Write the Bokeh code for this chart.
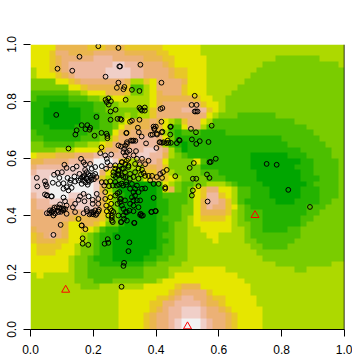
from bokeh.plotting import figure
from bokeh.models import Span, FixedTicker, LinearColorMapper
from bokeh.embed import file_html
from bokeh.resources import INLINE
import numpy as np

PALETTE = ["#00A600", "#24B300", "#4CBF00", "#7ACC00", "#ADD900", "#E6E600",
           "#E8C727", "#EAB64E", "#ECB176", "#EEB99F", "#F0CFC8", "#F2F2F2"]

# Level bands per row, top row first: "level:last column"
ROW_BANDS = [
    "5:3 7:8 6:11 7:14 6:20 5:26 4:49",
    "5:2 6:3 8:5 7:9 8:14 7:19 6:21 5:26 4:49",
    "5:2 6:3 7:4 8:9 9:12 8:17 7:20 6:22 5:27 4:38 3:45 4:49",
    "5:2 6:3 7:4 8:5 9:12 a:14 9:16 8:20 7:21 6:22 5:27 4:36 3:48 4:49",
    "4:0 5:2 6:3 7:4 8:5 9:11 a:15 9:17 8:21 7:22 6:24 5:27 4:35 3:49",
    "4:0 5:3 6:4 7:5 8:6 9:11 a:15 9:17 8:21 7:22 6:24 5:27 4:34 3:49",
    "3:3 5:5 6:6 7:7 8:14 7:15 4:17 6:18 5:19 8:23 7:24 5:27 4:33 3:49",
    "3:5 5:7 6:8 7:14 6:15 2:17 4:18 5:19 8:23 6:24 5:27 4:32 3:49",
    "2:5 3:7 4:8 5:11 7:14 6:15 3:17 4:18 5:19 7:20 8:23 6:24 5:27 4:31 3:49",
    "2:0 1:5 2:8 3:10 4:12 5:14 4:18 5:19 7:25 6:26 5:28 4:30 3:49",
    "1:2 0:5 1:9 2:11 3:13 4:18 5:19 7:20 8:26 6:27 5:29 4:30 3:49",
    "1:1 0:7 1:9 2:11 3:17 4:18 6:19 8:23 9:27 6:28 5:29 4:30 3:49",
    "1:1 0:7 1:10 2:12 3:14 4:15 3:16 4:18 6:19 8:27 5:28 4:29 3:32 2:38 3:49",
    "1:1 0:7 1:10 2:12 3:13 4:14 5:15 7:18 8:19 7:20 5:21 4:22 3:23 6:24 8:26 5:27 4:28 2:41 3:49",
    "1:2 0:6 1:10 2:12 3:13 5:14 7:18 8:19 7:20 5:21 2:23 5:24 8:26 4:27 2:43 3:49",
    "2:0 1:8 2:12 5:13 7:15 8:19 7:20 4:21 2:22 1:23 2:26 1:30 2:44 3:49",
    "2:1 1:7 2:10 3:11 4:12 6:13 8:16 9:19 8:20 5:21 3:22 1:39 2:45 3:49",
    "3:1 2:6 3:8 4:10 5:11 6:12 8:15 9:19 8:20 4:21 2:22 1:23 0:24 1:40 2:46 3:49",
    "3:3 4:6 5:10 6:11 8:13 9:17 a:19 9:20 8:21 4:22 2:23 0:24 1:42 2:47 3:49",
    "5:0 6:3 7:6 8:9 9:10 a:12 9:16 a:18 9:20 7:21 4:22 3:23 2:24 1:34 0:40 1:43 2:47 3:49",
    "7:1 8:5 9:9 b:12 a:13 6:14 5:15 4:16 8:18 9:19 8:20 5:21 3:25 5:26 2:27 1:34 0:42 1:44 2:48 3:49",
    "8:0 9:5 a:8 b:11 9:12 5:13 3:15 4:17 7:19 8:20 6:21 3:26 1:34 0:41 1:44 2:48 3:49",
    "9:0 a:8 b:10 8:11 5:12 3:16 4:17 6:19 8:20 6:21 4:22 3:26 2:29 1:35 0:42 1:44 2:48 3:49",
    "a:2 b:9 9:10 6:11 4:12 2:15 3:17 5:18 7:20 6:21 5:22 4:23 3:27 2:30 1:35 0:42 1:45 2:48 3:49",
    "a:2 b:9 a:10 8:11 4:12 1:14 0:19 2:20 5:21 4:22 3:23 2:25 3:27 4:30 3:31 2:32 1:36 0:43 1:44 2:48 3:49",
    "a:2 b:9 a:10 7:11 4:12 2:13 0:19 1:20 5:21 7:22 3:23 2:24 3:25 5:26 6:27 8:29 5:31 4:32 2:34 1:37 0:42 1:45 2:48 3:49",
    "9:0 a:2 b:5 a:8 b:9 a:10 8:11 5:12 3:13 1:14 0:19 1:20 2:24 3:25 5:26 6:27 9:29 6:30 5:31 4:32 2:34 1:37 0:42 1:45 2:48 3:49",
    "8:0 9:2 a:5 9:6 a:9 9:10 7:11 5:12 3:13 1:14 0:19 1:21 2:24 3:25 5:26 7:27 9:29 8:30 6:31 4:32 2:33 1:38 0:41 1:45 2:47 3:49",
    "8:0 9:6 a:9 9:10 7:11 5:12 3:13 0:19 1:21 2:23 3:25 5:26 7:27 9:28 8:30 6:31 5:32 3:33 2:34 1:43 2:46 3:49",
    "8:1 9:4 8:7 9:9 8:10 6:11 5:12 3:13 1:14 0:19 1:21 2:23 3:25 5:26 7:30 6:31 4:32 3:33 2:36 1:43 2:45 3:49",
    "8:5 7:6 6:7 7:10 6:11 4:12 3:13 1:14 0:19 1:20 2:23 3:24 4:25 5:26 6:30 5:31 4:32 3:33 2:36 1:42 2:44 3:49",
    "8:4 7:5 5:7 7:9 6:10 5:11 3:13 1:14 0:19 1:21 2:22 3:24 4:25 5:31 4:32 3:34 2:36 1:42 2:43 3:49",
    "7:0 8:4 7:5 5:7 6:8 5:9 4:10 2:11 1:13 0:19 1:21 2:22 3:24 4:26 5:31 4:33 3:34 2:36 1:40 2:42 3:49",
    "6:0 7:1 8:2 9:3 8:4 7:5 5:7 4:8 3:9 2:10 1:12 0:19 1:20 2:22 3:24 4:27 5:29 4:33 3:34 2:42 3:49",
    "6:0 7:3 6:5 5:7 4:8 3:9 2:10 1:12 0:19 1:21 2:22 3:24 4:28 5:29 4:33 3:35 2:41 3:49",
    "5:0 6:4 5:6 4:7 3:9 2:10 1:12 0:19 1:20 2:22 3:24 4:34 3:36 2:40 3:49",
    "5:0 6:3 5:6 4:7 3:9 2:10 1:12 0:18 1:20 2:22 3:24 4:35 3:49",
    "5:5 4:6 3:8 2:9 1:12 0:17 1:19 2:21 3:24 4:36 3:49",
    "5:5 4:6 3:8 2:10 1:17 2:19 3:23 4:38 3:47 4:49",
    "5:5 4:6 3:8 2:17 3:21 4:25 5:30 4:41 3:43 4:49",
    "4:0 5:1 4:6 3:8 2:17 3:21 4:22 5:32 4:49",
    "4:6 3:9 2:12 3:19 4:20 5:33 4:49",
    "4:7 3:10 4:17 5:22 6:23 7:26 5:34 4:49",
    "4:13 5:21 6:22 7:23 8:27 6:28 5:34 4:49",
    "4:13 5:19 6:21 7:22 8:23 9:25 8:27 7:28 6:30 5:35 4:49",
    "4:13 5:18 6:20 8:22 9:26 8:27 7:29 6:30 5:35 4:49",
    "4:13 5:18 6:19 7:20 8:21 9:23 a:26 9:27 8:29 7:30 6:31 5:36 4:49",
    "4:13 5:17 6:18 7:19 8:21 9:23 a:26 9:27 8:30 7:31 6:32 5:36 4:49",
    "4:13 5:17 6:18 7:19 8:21 9:22 a:23 b:26 a:27 9:28 8:30 7:31 6:32 5:36 4:49",
    "4:13 5:17 6:18 7:19 8:21 9:22 a:23 b:26 a:27 9:28 8:30 7:31 6:32 5:36 4:49",
]

upper_x = [.216,.280,.156,.086,.133,.283,.2855,.350,.239,.280,.275,.299,.296,.323,.347,.417,.303,.239,.248,.243,.256,.249,.082,.255,.271,.210,.347,.364,.355,.364,.351,.420,.414,.255,.277,.286,.290,.323,.317,.347,.417,.163,.181,.190,.175,.188,.147,.143,.204,.226,.242,.245,.245,.306,.342,.345,.354,.392,.395,.420,.445,.383,.402,.324,.334,.368,.413,.424,.439,.447,.473,.401,.121,.226]
upper_y = [.994,.988,.957,.915,.908,.923,.923,.929,.887,.866,.848,.851,.843,.841,.837,.866,.806,.806,.811,.798,.801,.789,.753,.765,.771,.746,.778,.779,.768,.768,.773,.777,.774,.736,.739,.739,.736,.733,.729,.736,.729,.717,.717,.708,.703,.701,.699,.684,.680,.690,.687,.679,.671,.690,.708,.692,.677,.712,.704,.694,.711,.683,.687,.662,.662,.653,.657,.657,.655,.655,.665,.637,.635,.639]

left_x = [.222,.238,.257,.243,.245,.254,.241,.108,.115,.135,.147,.161,.169,.174,.190,.206,.227,.086,.075,.100,.092,.071,.089,.105,.118,.128,.140,.156,.126,.142,.115,.131,.153,.169,.179,.190,.163,.185,.195,.174,.206,.105,.121,.020,.022,.046,.049,.052,.046,.052,.068,.158,.169,.185,.153,.172,.198,.211,.216,.198,.216,.238,.105,.110,.094,.115,.084,.100,.073,.062,.052,.068,.089,.105,.110,.115,.142,.135,.142,.153,.163,.096,.073,.179,.195,.206,.216,.200,.211,.169,.188,.073,.166,.166,.184,.163,.175,.053,.066]
left_y = [.619,.611,.614,.599,.587,.576,.564,.578,.567,.564,.572,.599,.587,.579,.581,.570,.573,.550,.543,.552,.532,.515,.511,.513,.532,.524,.537,.546,.515,.519,.499,.497,.523,.535,.552,.540,.511,.524,.564,.560,.546,.494,.488,.532,.502,.520,.509,.502,.474,.470,.467,.467,.476,.467,.455,.450,.455,.476,.458,.441,.441,.482,.463,.450,.439,.435,.429,.423,.420,.418,.408,.415,.412,.423,.423,.406,.441,.429,.412,.388,.365,.367,.400,.423,.412,.418,.414,.404,.406,.408,.404,.332,.320,.301,.297,.365,.352,.471,.467]

center_x = [.238,.254,.270,.283,.241,.257,.277,.254,.243,.264,.248,.259,.262,.288,.291,.296,.288,.302,.307,.227,.240,.254,.270,.282,.295,.235,.250,.262,.275,.290,.305,.264,.280,.270,.291,.307,.280,.296,.291,.272,.312,.301,.317,.280,.288,.307,.296,.312,.305,.328,.320,.302,.307,.298,.307,.315,.302,.312,.336,.328,.339,.355,.365,.376,.348,.355,.360,.352,.365,.344,.333,.291,.285,.270,.280,.302,.296,.264,.280,.291,.302,.317,.333,.328,.344,.305,.323,.339,.333,.328,.317,.333,.323,.344,.328,.339,.317,.349,.328,.344,.315,.328,.285,.277,.285,.301,.296,.307,.298,.289,.259,.259,.259,.280]
center_y = [.458,.464,.470,.482,.435,.441,.441,.423,.415,.412,.400,.392,.377,.458,.435,.400,.377,.412,.382,.517,.517,.520,.517,.508,.505,.505,.503,.505,.505,.512,.508,.552,.558,.576,.587,.593,.546,.535,.564,.535,.570,.552,.546,.646,.642,.651,.622,.575,.689,.663,.663,.645,.657,.634,.622,.628,.611,.599,.626,.611,.599,.599,.580,.592,.580,.561,.549,.544,.539,.565,.581,.587,.575,.564,.558,.581,.564,.541,.541,.541,.535,.529,.552,.535,.529,.517,.511,.505,.494,.482,.494,.470,.464,.482,.453,.453,.441,.453,.435,.429,.417,.415,.458,.478,.447,.453,.423,.412,.388,.377,.417,.400,.382,.400]

east_x = [.365,.355,.392,.385,.399,.349,.358,.330,.381,.392,.408,.402,.387,.376,.413,.419,.434,.422,.429,.429,.461,.389,.403,.399,.394,.418,.411,.419,.432,.437,.445,.447,.466,.475,.511,.527,.514,.528,.539,.567,.507,.520,.517,.528,.535,.517,.514,.564,.562,.570,.570]
east_y = [.495,.494,.462,.412,.415,.402,.400,.374,.523,.511,.511,.535,.539,.539,.546,.532,.560,.552,.499,.494,.538,.684,.684,.712,.704,.692,.657,.655,.654,.663,.684,.712,.654,.663,.704,.692,.667,.651,.661,.658,.567,.584,.529,.529,.503,.488,.470,.449,.544,.532,.587]

outlier_x = [.523,.513,.529,.523,.527,.532,.577,.752,.784,.821,.590,.574,.890,.290,.298,.296,.312,.315,.277,.248,.236,.246,.331,.385,.398,.351,.354]
outlier_y = [.820,.788,.788,.765,.765,.765,.715,.581,.578,.490,.599,.588,.430,.150,.234,.223,.275,.306,.324,.304,.301,.317,.374,.413,.416,.406,.399]

# Extra marks in the darkest overlaps, left of the centre
packed_x = [.165,.172,.178,.184,.192,.199,.168,.176,.186,.194,.202,.210,.160,.182,.068,.078,.086,.097,.104,.076,.092,.060,.200,.208,.218,.180,.192]
packed_y = [.535,.541,.530,.545,.532,.541,.522,.516,.518,.525,.527,.535,.528,.508,.410,.407,.417,.413,.418,.428,.428,.408,.412,.402,.420,.415,.408]

triangle_x = [.112, .500, .715]
triangle_y = [.139, .0105, .401]

x_ticks = [0.0, 0.2, 0.4, 0.6, 0.8, 1.0]
y_ticks = [0.0, 0.2, 0.4, 0.6, 0.8, 1.0]
tick_labels = {0.0: "0.0", 0.2: "0.2", 0.4: "0.4", 0.6: "0.6", 0.8: "0.8", 1.0: "1.0"}


def band_row(text):
    row, start = [], 0
    for part in text.split():
        level, last = part.split(":")
        last = int(last)
        row += [int(level, 16)] * max(0, last + 1 - start)
        start = max(start, last + 1)
    return row[:50] + [row[-1]] * (50 - len(row))


grid = np.array([band_row(t) for t in ROW_BANDS][::-1], dtype=float)

p = figure(width=352, height=358, x_range=(0, 1), y_range=(0, 1),
           output_backend="svg", toolbar_location=None,
           min_border_left=30, min_border_right=8, min_border_top=44, min_border_bottom=29,
           background_fill_color="white", border_fill_color="white")
p.outline_line_color = None
p.grid.visible = False

mapper = LinearColorMapper(palette=PALETTE, low=0, high=11.999)
p.image(image=[grid], x=0, y=0, dw=1, dh=1, color_mapper=mapper)

for xs, ys in [(upper_x, upper_y), (left_x, left_y), (center_x, center_y),
               (east_x, east_y), (outlier_x, outlier_y), (packed_x, packed_y)]:
    p.scatter(xs, ys, marker="circle", size=4.8, fill_color=None, line_color="black", line_width=1)
p.scatter(triangle_x, triangle_y, marker="triangle", size=8, fill_color=None,
          line_color="#FF0000", line_width=1)

p.add_layout(Span(location=1, dimension="height", line_color="black", line_width=1.5))

for ax, ticks in ((p.xaxis[0], x_ticks), (p.yaxis[0], y_ticks)):
    ax.ticker = FixedTicker(ticks=ticks)
    ax.major_label_overrides = tick_labels
    ax.major_tick_in = 0
    ax.major_tick_out = 7
    ax.major_tick_line_color = "black"
    ax.minor_tick_line_color = None
    ax.major_label_text_font = "Liberation Sans"
    ax.major_label_text_font_size = "12px"
    ax.major_label_text_color = "black"

p.xaxis[0].axis_line_color = "black"
p.xaxis[0].major_label_standoff = 8
p.yaxis[0].axis_line_color = None
p.yaxis[0].major_label_orientation = "vertical"
p.yaxis[0].major_label_standoff = 8

open("out.html", "w").write(file_html(p, INLINE))
